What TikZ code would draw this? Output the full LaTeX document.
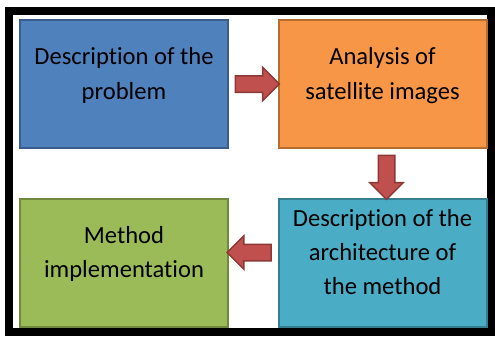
\documentclass[tikz,border=0pt]{standalone}
\usepackage{fontspec}
\setmainfont{Carlito}[Ligatures=NoCommon]
\usepackage{tikz}
\usetikzlibrary{positioning,shapes.arrows}

\definecolor{boxblue}{HTML}{4F81BD}
\definecolor{boxblueline}{HTML}{385D8A}
\definecolor{boxorange}{HTML}{F79646}
\definecolor{boxorangeline}{HTML}{B66D31}
\definecolor{boxgreen}{HTML}{9BBB59}
\definecolor{boxgreenline}{HTML}{71893F}
\definecolor{boxteal}{HTML}{4BACC6}
\definecolor{boxtealline}{HTML}{357D91}
\definecolor{arrowred}{HTML}{C0504D}
\definecolor{arrowredline}{HTML}{8C3836}

\begin{document}
\begin{tikzpicture}[
    node distance=0.97cm,
    stagebox/.style={draw, line width=0.04cm, minimum width=4.16cm, minimum height=2.56cm,
        align=center, text depth=0.42cm, font=\fontsize{14}{19.5}\selectfont},
    blockarrow/.style={single arrow, draw=arrowredline, fill=arrowred, line width=0.03cm,
        inner sep=0.15cm, minimum height=0.88cm,
        single arrow head extend=0.17cm, single arrow tip angle=90}
]
\useasboundingbox (0,0) rectangle (9.9,6.72);

\draw[line width=0.16cm] (0.18,0.08) rectangle (9.82,6.5);

\node (problem) [stagebox, fill=boxblue, draw=boxblueline] at (2.48,5.04) {Description of the\\problem};
\node (analysis) [stagebox, fill=boxorange, draw=boxorangeline, right=of problem] {Analysis of\\satellite images};
\node (architecture) [stagebox, fill=boxteal, draw=boxtealline, below=of analysis] {Description of the\\architecture of\\the method};
\node (implementation) [stagebox, fill=boxgreen, draw=boxgreenline, left=of architecture] {Method\\implementation};

\path (problem) -- (analysis) node[midway, blockarrow, shape border rotate=0] (arrowa) {};
\path (analysis) -- (architecture) node[midway, blockarrow, shape border rotate=270, xshift=0.08cm] (arrowb) {};
\path (architecture) -- (implementation) node[midway, blockarrow, shape border rotate=180, yshift=0.2cm] (arrowc) {};

\end{tikzpicture}
\end{document}
